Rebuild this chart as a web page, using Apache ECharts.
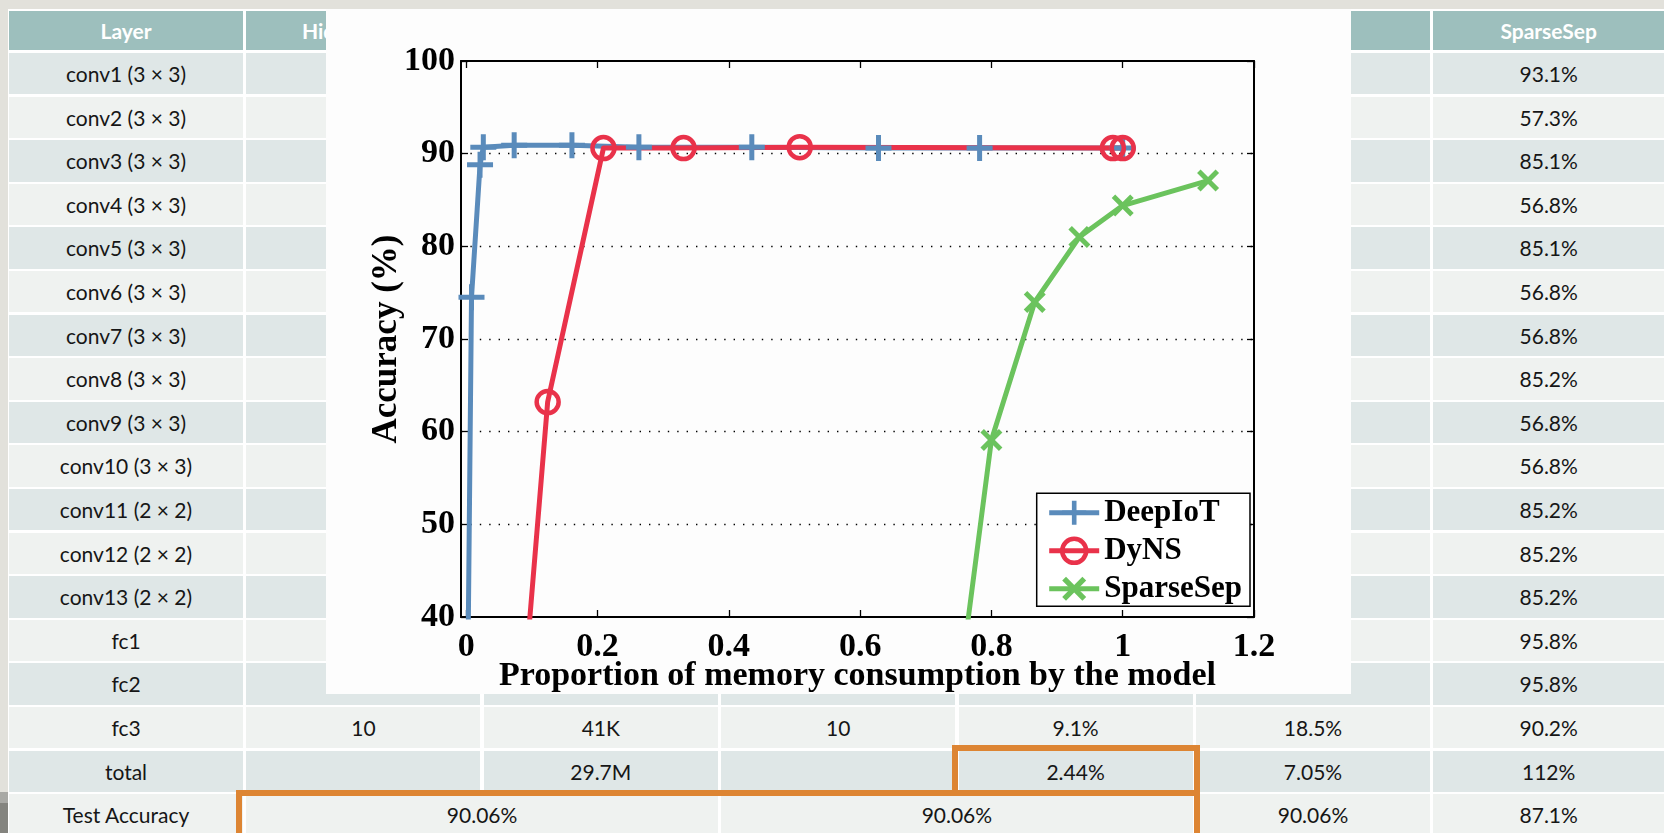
<!DOCTYPE html>
<html>
<head>
<meta charset="utf-8">
<script src="https://cdn.jsdelivr.net/npm/echarts@6/dist/echarts.min.js"></script>
<style>
  html, body { margin: 0; padding: 0; width: 1664px; height: 833px; overflow: hidden; background: #e2e1db; }
  #sheet { position: absolute; left: 8px; top: 8.6px; width: 1656px; height: 825px; background: #ffffff; }
  .cell { position: absolute; box-sizing: border-box; text-align: center; white-space: nowrap; overflow: hidden;
          font-family: Lato, "Noto Sans", sans-serif; font-size: 21px; color: #161616; }
  .head { background: #9dbfbd; color: #ffffff; font-weight: bold; }
  .rowA { background: #dfe7e7; }
  .rowB { background: #eff2f0; }
  .box { position: absolute; box-sizing: border-box; border: 6px solid #dd8533; }
  .edge { position: absolute; left: 0; width: 8px; }
  #chart { position: absolute; left: 326px; top: 8.6px; width: 1025px; height: 685px; background: #fdfdfd; }
</style>
</head>
<body>
<div id="sheet"></div>
<div id="chart"></div>
<script>
// ---- table contents ----
const headerLabels = ['Layer', 'Hidden Units', '', '', '', '', 'SparseSep'];
const layerNames = [
  'conv1 (3 × 3)', 'conv2 (3 × 3)', 'conv3 (3 × 3)', 'conv4 (3 × 3)', 'conv5 (3 × 3)',
  'conv6 (3 × 3)', 'conv7 (3 × 3)', 'conv8 (3 × 3)', 'conv9 (3 × 3)', 'conv10 (3 × 3)',
  'conv11 (2 × 2)', 'conv12 (2 × 2)', 'conv13 (2 × 2)', 'fc1', 'fc2', 'fc3', 'total', 'Test Accuracy'
];
const sparseSepValues = [
  '93.1%', '57.3%', '85.1%', '56.8%', '85.1%', '56.8%', '56.8%', '85.2%', '56.8%', '56.8%',
  '85.2%', '85.2%', '85.2%', '95.8%', '95.8%', '90.2%', '112%', '87.1%'
];
const fc3Cells = ['10', '41K', '10', '9.1%', '18.5%'];
const totalCells = ['', '29.7M', '', '2.44%', '7.05%'];
const testAccuracyCells = ['90.06%', '90.06%', '90.06%'];

// ---- chart data: [memory proportion, accuracy %] ----
const xTickValues = [0, 0.2, 0.4, 0.6, 0.8, 1, 1.2];
const deepIoT = [[0.0005, 20], [0.008, 74.5], [0.021, 88.8], [0.026, 90.7], [0.073, 90.9], [0.161, 90.9],
                 [0.263, 90.7], [0.435, 90.7], [0.628, 90.6], [0.782, 90.6], [1.0, 90.6]];
const dyNS = [[0.062, 10], [0.124, 63.2], [0.209, 90.6], [0.331, 90.6], [0.508, 90.7], [0.985, 90.6], [1.0, 90.6]];
const sparseSep = [[0.71, 10], [0.8, 59.1], [0.866, 74.0], [0.934, 81.0], [1.0, 84.4], [1.13, 87.1]];

// ---- table layout ----
const COL0 = 9, COLPITCH = 237.4, COLW = 234;
const HEAD_TOP = 11, HEAD_H = 39;
const ROW0 = 53, ROWPITCH = 43.6, ROWH = 41.4;
const PAGE_W = 1664;

function addCell(text, left, top, width, height, cls) {
  const d = document.createElement('div');
  d.className = 'cell ' + cls;
  d.style.left = left + 'px';
  d.style.top = top + 'px';
  d.style.width = width + 'px';
  d.style.height = height + 'px';
  d.style.lineHeight = height + 'px';
  d.textContent = text;
  document.body.insertBefore(d, document.getElementById('chart'));
}
function colLeft(c) { return COL0 + c * COLPITCH; }
function colWidth(c, span) {
  if (c + span - 1 === 6) return PAGE_W - colLeft(c);
  return COLW + (span - 1) * COLPITCH;
}

headerLabels.forEach((t, c) => addCell(t, colLeft(c), HEAD_TOP, colWidth(c, 1), HEAD_H, 'head'));

layerNames.forEach((name, r) => {
  const top = ROW0 + r * ROWPITCH;
  const cls = r % 2 === 0 ? 'rowA' : 'rowB';
  addCell(name, colLeft(0), top, colWidth(0, 1), ROWH, cls);
  if (name === 'Test Accuracy') {
    addCell(testAccuracyCells[0], colLeft(1), top, colWidth(1, 2), ROWH, cls);
    addCell(testAccuracyCells[1], colLeft(3), top, colWidth(3, 2), ROWH, cls);
    addCell(testAccuracyCells[2], colLeft(5), top, colWidth(5, 1), ROWH, cls);
  } else {
    const mid = name === 'fc3' ? fc3Cells : name === 'total' ? totalCells : ['', '', '', '', ''];
    mid.forEach((t, k) => addCell(t, colLeft(k + 1), top, colWidth(k + 1, 1), ROWH, cls));
  }
  addCell(sparseSepValues[r], colLeft(6), top, colWidth(6, 1), ROWH, cls);
});

// highlight frames
function addBox(left, top, width, height) {
  const d = document.createElement('div');
  d.className = 'box';
  Object.assign(d.style, { left: left + 'px', top: top + 'px', width: width + 'px', height: height + 'px' });
  document.body.insertBefore(d, document.getElementById('chart'));
}
addBox(952, 744.5, 248, 51);
addBox(235.5, 789.5, 964.5, 60);

// slide edge shading
[[792, 11, '#a9a9a5'], [803, 30, '#84847f']].forEach(([t, h, c]) => {
  const d = document.createElement('div');
  d.className = 'edge';
  Object.assign(d.style, { top: t + 'px', height: h + 'px', background: c });
  document.body.appendChild(d);
});

// ---- chart ----
const BLUE = '#5a8bbb', RED = '#e9324a', GREEN = '#6bc35d';
const plusPath = 'path://M10.5,0H15.5V10.5H26V15.5H15.5V26H10.5V15.5H0V10.5H10.5Z';
const crossPath = 'path://M3.5,0L11,7.5L18.5,0L22,3.5L14.5,11L22,18.5L18.5,22L11,14.5L3.5,22L0,18.5L7.5,11L0,3.5Z';
const serifBold = { fontFamily: 'Liberation Serif', fontWeight: 'bold', color: '#000' };
const axisLine = { show: true, onZero: false, lineStyle: { color: '#000', width: 2 } };
const tickStyle = { color: '#000', width: 1.3 };

const chart = echarts.init(document.getElementById('chart'), null, { renderer: 'canvas' });
chart.setOption({
  animation: false,
  backgroundColor: '#fdfdfd',
  grid: { left: 135, top: 52, width: 793, height: 556, containLabel: false, outerBoundsMode: 'none' },
  xAxis: [
    {
      type: 'value', min: -0.008, max: 1.2, position: 'bottom',
      name: 'Proportion of memory consumption by the model',
      nameLocation: 'middle', nameGap: 42, nameMoveOverlap: false,
      nameTextStyle: Object.assign({}, serifBold, { fontSize: 34 }),
      axisLine: axisLine,
      axisTick: { show: true, inside: true, length: 7, customValues: xTickValues, lineStyle: tickStyle },
      axisLabel: Object.assign({ customValues: xTickValues, margin: 13, fontSize: 34 }, serifBold),
      splitLine: { show: false }
    },
    {
      type: 'value', min: -0.008, max: 1.2, position: 'top',
      axisLine: axisLine,
      axisTick: { show: true, inside: true, length: 7, customValues: xTickValues, lineStyle: tickStyle },
      axisLabel: { show: false },
      splitLine: { show: false }
    }
  ],
  yAxis: [
    {
      type: 'value', min: 40, max: 100, interval: 10, position: 'left',
      name: 'Accuracy (%)', nameLocation: 'middle', nameGap: 57, nameMoveOverlap: false,
      nameTextStyle: Object.assign({}, serifBold, { fontSize: 35 }),
      axisLine: axisLine,
      axisTick: { show: true, inside: true, length: 7, lineStyle: tickStyle },
      axisLabel: Object.assign({ margin: 6, fontSize: 34 }, serifBold),
      splitLine: { show: true, showMinLine: false, showMaxLine: false,
                   lineStyle: { color: '#000', width: 1.4, type: [1.4, 8] } }
    },
    {
      type: 'value', min: 40, max: 100, interval: 10, position: 'right',
      axisLine: axisLine,
      axisTick: { show: true, inside: true, length: 7, lineStyle: tickStyle },
      axisLabel: { show: false },
      splitLine: { show: false }
    }
  ],
  legend: {
    orient: 'vertical', left: 710.7, top: 484.3,
    padding: [4, 8, 2, 10],
    itemWidth: 50, itemHeight: 30, itemGap: 7,
    backgroundColor: '#ffffff', borderColor: '#000', borderWidth: 1.5,
    lineStyle: { width: 5 },
    itemStyle: { borderWidth: 'inherit' },
    textStyle: Object.assign({ fontSize: 31, lineHeight: 30 }, serifBold),
    data: ['DeepIoT', 'DyNS', 'SparseSep']
  },
  series: [
    {
      name: 'DeepIoT', type: 'line', data: deepIoT, clip: true,
      symbol: plusPath, symbolSize: 26,
      itemStyle: { color: BLUE, borderWidth: 0 },
      lineStyle: { color: BLUE, width: 5, join: 'round' }
    },
    {
      name: 'DyNS', type: 'line', data: dyNS, clip: true,
      symbol: 'circle', symbolSize: 22,
      itemStyle: { color: 'rgba(0,0,0,0)', borderColor: RED, borderWidth: 4.5 },
      lineStyle: { color: RED, width: 5, join: 'round' }
    },
    {
      name: 'SparseSep', type: 'line', data: sparseSep, clip: true,
      symbol: crossPath, symbolSize: 22,
      itemStyle: { color: GREEN, borderWidth: 0 },
      lineStyle: { color: GREEN, width: 5, join: 'round' }
    }
  ]
});
</script>
</body>
</html>
